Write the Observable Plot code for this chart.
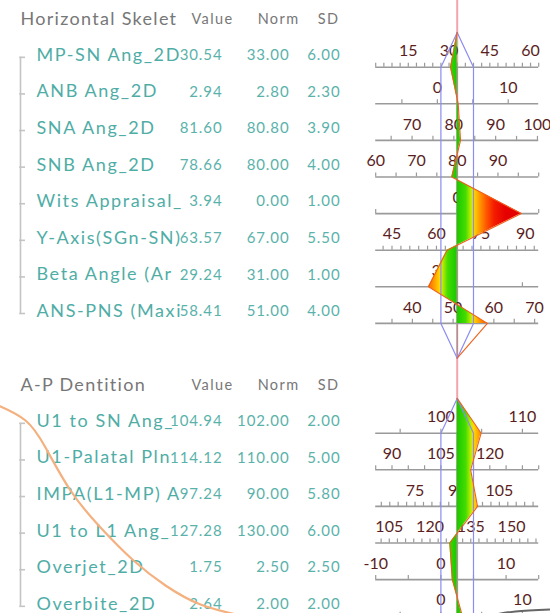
<!DOCTYPE html>
<html>
<head>
<meta charset="utf-8">
<script src="https://cdn.jsdelivr.net/npm/d3@7"></script>
<script src="https://cdn.jsdelivr.net/npm/@observablehq/plot@0.6"></script>
<style>
  html, body { margin: 0; padding: 0; background: #fff; }
  #chart svg { display: block; }
  g[aria-description="row-label"] text { letter-spacing: 1.6px; }
  g[aria-description="title"] text { letter-spacing: 1.3px; }
  g[aria-description="col-header"] text { letter-spacing: 1.4px; }
  g[aria-description="number"] text { letter-spacing: 0.9px; }
</style>
</head>
<body>
<div id="chart"></div>
<script>
// ---------- data ----------
const upperTitle = "Horizontal Skelet";
const lowerTitle = "A-P Dentition";
const colHeaders = ["Value", "Norm", "SD"];

const upperLabels = ["MP-SN Ang_2D", "ANB Ang_2D", "SNA Ang_2D", "SNB Ang_2D", "Wits Appraisal_", "Y-Axis(SGn-SN)", "Beta Angle (Ar", "ANS-PNS (Maxi"];
const upperValues = [30.54, 2.94, 81.60, 78.66, 3.94, 63.57, 29.24, 58.41];
const upperNorms  = [33.00, 2.80, 80.80, 80.00, 0.00, 67.00, 31.00, 51.00];
const upperSDs    = [6.00, 2.30, 3.90, 4.00, 1.00, 5.50, 1.00, 4.00];
const upperTickLabels = [[15, 30, 45, 60], [0, 10], [70, 80, 90, 100], [60, 70, 80, 90], [0], [45, 60, 75, 90], [30], [40, 50, 60, 70]];
const upperTickSteps  = [3, 5, 5, 5, 5, 3, 5, 5];

const lowerLabels = ["U1 to SN Ang_", "U1-Palatal Pln", "IMPA(L1-MP) A", "U1 to L1 Ang_", "Overjet_2D", "Overbite_2D"];
const lowerValues = [104.94, 114.12, 97.24, 127.28, 1.75, 2.64];
const lowerNorms  = [102.00, 110.00, 90.00, 130.00, 2.50, 2.00];
const lowerSDs    = [2.00, 5.00, 5.80, 6.00, 2.50, 2.00];
const lowerTickLabels = [[100, 110], [90, 105, 120], [75, 90, 105], [105, 120, 135, 150], [-10, 0, 10], [0, 10]];
const lowerTickSteps  = [5, 5, 3, 3, 5, 5];

// decorative strokes over the screenshot (pixel positions)
const orangeStrokePx = [[-5, 404], [0, 406], [25, 420], [45, 447], [70, 490], [100, 527], [133, 560], [165, 585], [200, 604], [240, 615]];
const grayStrokePx = [[490, 615], [515, 611], [552, 609]];

// ---------- layout ----------
const W = 550, H = 613;
const X0 = 456.7, PXSD = 16.3;   // centre line, pixels per SD
const Y0 = 66.7, ROWH = 36.6;    // first axis row, row spacing
const px2z = p => (p - X0) / PXSD;
const py2r = p => (p - Y0) / ROWH;
const FONT = "Lato, 'Open Sans', sans-serif";

const sections = [
  {key: "upper", title: upperTitle, labels: upperLabels, values: upperValues, norms: upperNorms, sds: upperSDs, tickLabels: upperTickLabels, tickSteps: upperTickSteps, start: 0},
  {key: "lower", title: lowerTitle, labels: lowerLabels, values: lowerValues, norms: lowerNorms, sds: lowerSDs, tickLabels: lowerTickLabels, tickSteps: lowerTickSteps, start: 10}
];

const rows = [];
const fillPts = [], outlinePts = [], bluePts = [], tickPts = [], tickLbls = [], headers = [], brackets = [], centerRules = [];
for (const s of sections) {
  const n = s.labels.length;
  const first = s.start, last = s.start + n - 1;
  const apex = first - 0.95, bottom = last + 0.95;
  headers.push({y: first - 1.31, title: s.title});
  brackets.push({y1: first - 0.27, y2: last - 0.27});
  centerRules.push({y1: first, y2: bottom});
  fillPts.push({sec: s.key, y: apex, z: 0, base: 0});
  outlinePts.push({sec: s.key, y: apex, z: 0});
  s.labels.forEach((label, i) => {
    const row = s.start + i;
    const v = s.values[i], nm = s.norms[i], sd = s.sds[i];
    const z = (v - nm) / sd;
    rows.push({row, label, value: v, norm: nm, sd, z});
    fillPts.push({sec: s.key, y: row, z, base: 0});
    outlinePts.push({sec: s.key, y: row, z});
    const step = s.tickSteps[i];
    const lo = nm - 5 * sd, hi = nm + 5 * sd;
    for (let t = Math.ceil(lo / step - 1e-9) * step; t <= hi + 1e-9; t += step) {
      tickPts.push({y: row, z: (t - nm) / sd});
    }
    for (const t of s.tickLabels[i]) tickLbls.push({y: row, z: (t - nm) / sd, text: String(t)});
  });
  outlinePts.push({sec: s.key, y: bottom, z: 0});
  for (const side of [-1, 1]) {
    const k = s.key + side;
    bluePts.push({k, y: apex, z: 0}, {k, y: first, z: side}, {k, y: last, z: side}, {k, y: bottom, z: 0});
  }
}

const orangeStroke = orangeStrokePx.map(([x, y]) => ({z: px2z(x), y: py2r(y)}));
const grayStroke = grayStrokePx.map(([x, y]) => ({z: px2z(x), y: py2r(y)}));

// gradient (green near the norm, through yellow and orange to red)
const gradStops = [[0, "#18c800"], [0.55, "#44dc00"], [0.85, "#b8ec00"], [1.05, "#ffd800"], [1.35, "#ffa200"], [1.8, "#ff5a00"], [2.3, "#f41c00"], [3.0, "#e60000"], [5.0, "#e00000"]];

function gradientDefs(index, scales) {
  const x = scales && scales.x ? scales.x : (z => X0 + z * PXSD);
  const defs = d3.create("svg:defs");
  const g = defs.append("linearGradient")
    .attr("id", "wig").attr("gradientUnits", "userSpaceOnUse")
    .attr("x1", x(-5)).attr("x2", x(5)).attr("y1", 0).attr("y2", 0);
  const all = [...gradStops.slice(1).map(([z, c]) => [-z, c]).reverse(), ...gradStops];
  for (const [z, c] of all) g.append("stop").attr("offset", (z + 5) / 10).attr("stop-color", c);
  return defs.node();
}

const chart = Plot.plot({
  width: W,
  height: H,
  margin: 0,
  x: {domain: [px2z(0), px2z(W)], range: [0, W], axis: null},
  y: {domain: [py2r(0), py2r(H)], range: [0, H], axis: null},
  marks: [
    gradientDefs,
    // pink centre line
    Plot.ruleX([0], {stroke: "#f4a4ae", strokeWidth: 2}),
    Plot.ruleX(centerRules, {x: 0, y1: "y1", y2: "y2", stroke: "#8a8a8a", strokeWidth: 1}),
    // axes
    Plot.ruleY(rows, {y: "row", x1: -5, x2: 5, stroke: "#9a9a9a", strokeWidth: 1.6}),
    Plot.ruleX(tickPts, {x: "z", y1: "y", y2: d => d.y - 0.11, stroke: "#9a9a9a", strokeWidth: 1.2}),
    Plot.text(tickLbls, {x: "z", y: "y", text: "text", dy: -16, fill: "#5a1e1e", fontSize: 16, fontFamily: FONT}),
    // wiggle fill and outline
    Plot.areaX(fillPts, {y: "y", x1: "base", x2: "z", z: "sec", fill: "url(#wig)", curve: "linear"}),
    Plot.line(bluePts, {x: "z", y: "y", z: "k", stroke: "#8c8cf2", strokeWidth: 1.2}),
    Plot.line(outlinePts, {x: "z", y: "y", z: "sec", stroke: "#f0601c", strokeWidth: 1.1}),
    // table
    Plot.ruleX(brackets, {x: px2z(20), y1: "y1", y2: "y2", stroke: "#c4c4c4", strokeWidth: 1.6}),
    Plot.ruleY(rows, {y: d => d.row - 0.27, x1: px2z(19.2), x2: px2z(25), stroke: "#c4c4c4", strokeWidth: 1.6}),
    Plot.text(headers, {y: "y", text: "title", frameAnchor: "left", dx: 20, textAnchor: "start", fill: "#777", fontSize: 18, fontFamily: FONT, ariaDescription: "title"}),
    Plot.text(headers, {y: "y", text: () => colHeaders[0], frameAnchor: "left", dx: 233, textAnchor: "end", fill: "#777", fontSize: 14.5, fontFamily: FONT, ariaDescription: "col-header"}),
    Plot.text(headers, {y: "y", text: () => colHeaders[1], frameAnchor: "left", dx: 299, textAnchor: "end", fill: "#777", fontSize: 14.5, fontFamily: FONT, ariaDescription: "col-header"}),
    Plot.text(headers, {y: "y", text: () => colHeaders[2], frameAnchor: "left", dx: 339, textAnchor: "end", fill: "#777", fontSize: 14.5, fontFamily: FONT, ariaDescription: "col-header"}),
    Plot.text(rows, {y: d => d.row - 0.33, text: "label", frameAnchor: "left", dx: 36, textAnchor: "start", fill: "#4fada6", fontSize: 18, fontFamily: FONT, ariaDescription: "row-label"}),
    Plot.text(rows, {y: d => d.row - 0.33, text: d => d.value.toFixed(2), frameAnchor: "left", dx: 222, textAnchor: "end", fill: "#5ab2ab", fontSize: 15, fontFamily: FONT, ariaDescription: "number"}),
    Plot.text(rows, {y: d => d.row - 0.33, text: d => d.norm.toFixed(2), frameAnchor: "left", dx: 289, textAnchor: "end", fill: "#5ab2ab", fontSize: 15, fontFamily: FONT, ariaDescription: "number"}),
    Plot.text(rows, {y: d => d.row - 0.33, text: d => d.sd.toFixed(2), frameAnchor: "left", dx: 340, textAnchor: "end", fill: "#5ab2ab", fontSize: 15, fontFamily: FONT, ariaDescription: "number"}),
    // overlay strokes
    Plot.line(orangeStroke, {x: "z", y: "y", curve: "natural", stroke: "#f4b07e", strokeWidth: 2.2}),
    Plot.line(grayStroke, {x: "z", y: "y", curve: "natural", stroke: "#666", strokeWidth: 2})
  ]
});
document.getElementById("chart").appendChild(chart);
</script>
</body>
</html>
